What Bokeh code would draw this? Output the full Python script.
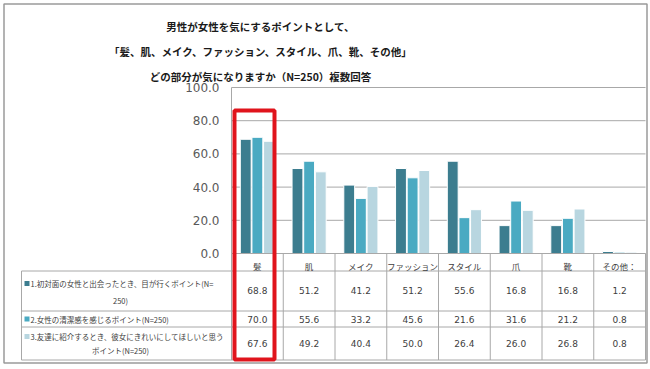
from bokeh.plotting import figure
from bokeh.models import (ColumnDataSource, Range1d, Label, BoxAnnotation, LinearAxis,
                          NumeralTickFormatter, FixedTicker)
from bokeh.core.properties import value
from bokeh.embed import file_html
from bokeh.resources import INLINE

# ---------------- data ----------------
categories = ["髪", "肌", "メイク", "ファッション", "スタイル", "爪", "靴", "その他："]
series1 = [68.8, 51.2, 41.2, 51.2, 55.6, 16.8, 16.8, 1.2]
series2 = [70.0, 55.6, 33.2, 45.6, 21.6, 31.6, 21.2, 0.8]
series3 = [67.6, 49.2, 40.4, 50.0, 26.4, 26.0, 26.8, 0.8]
y_ticks = [0, 20, 40, 60, 80, 100]
title_lines = [
    "男性が女性を気にするポイントとして、",
    "「髪、肌、メイク、ファッション、スタイル、爪、靴、その他」",
    "どの部分が気になりますか（N=250）複数回答",
]
row_label_lines = [
    ["1.初対面の女性と出会ったとき、目が行くポイント(N=", "250)"],
    ["2.女性の清潔感を感じるポイント(N=250)"],
    ["3.友達に紹介するとき、彼女にきれいにしてほしいと思う", "ポイント(N=250)"],
]
highlight = "髪"

# ---------------- styles / layout ----------------
colors = ["#3C7D8F", "#4AAAC2", "#B8D6E0"]
grid_color = "#A8A8A8"
text_color = "#404040"
jp_font = "Noto Sans CJK JP"
num_font = "DejaVu Sans"

W, H = 650, 369
L, R, T, B = 231, 645, 87, 253      # plot area edges (reference pixels)
N = len(categories)


def X(px):   # reference x pixel -> data x
    return (px - L) / (R - L) * N


def Y(py):   # reference y pixel -> data y
    return (B - py) / (B - T) * 100.0


p = figure(width=W, height=H, x_range=Range1d(X(0), X(650)), y_range=Range1d(Y(369), Y(0)),
           output_backend="svg", toolbar_location=None, title=None,
           x_axis_type=None, y_axis_type=None,
           min_border_left=0, min_border_right=0, min_border_top=0, min_border_bottom=0)
p.min_border = 0
p.background_fill_color = "white"
p.border_fill_color = "white"
p.outline_line_color = None
p.xgrid.visible = False
p.ygrid.visible = False

# gridlines over the plot area
p.segment(x0=[0] * len(y_ticks), x1=[N] * len(y_ticks), y0=y_ticks, y1=y_ticks,
          line_color=grid_color, line_width=1)

# bars
idx = list(range(N))
offsets = [-0.225, 0.0, 0.225]
for vals, off, col in zip([series1, series2, series3], offsets, colors):
    src = ColumnDataSource(dict(x=[i + 0.5 + off for i in idx], top=vals))
    p.vbar(x="x", top="top", width=0.21, source=src,
           fill_color=col, line_color="white", line_width=1)

# y axis
yax = LinearAxis(fixed_location=0, bounds=(0, 100), ticker=FixedTicker(ticks=y_ticks),
                 formatter=NumeralTickFormatter(format="0.0"))
yax.major_label_text_font = num_font
yax.major_label_text_font_size = "12px"
yax.major_label_text_color = "#595959"
yax.axis_line_color = grid_color
yax.major_tick_line_color = None
yax.minor_tick_line_color = None
yax.major_tick_in = 0
yax.major_tick_out = 0
yax.major_label_standoff = 12
p.add_layout(yax, "left")

# x axis (category header row of the data table)
centers = [i + 0.5 for i in idx]
xax = LinearAxis(fixed_location=0, bounds=(0, N), ticker=FixedTicker(ticks=centers),
                 major_label_overrides={c: cat for c, cat in zip(centers, categories)})
xax.major_label_text_font = jp_font
xax.major_label_text_font_size = "8.5px"
xax.major_label_text_color = text_color
xax.axis_line_color = grid_color
xax.major_tick_line_color = None
xax.minor_tick_line_color = None
xax.major_tick_in = 0
xax.major_tick_out = 0
xax.major_label_standoff = 6
p.add_layout(xax, "below")

# data table grid
row_edges = [270.5, 310.5, 326.5, 359.5]
p.segment(x0=[X(21)] * len(row_edges), x1=[N] * len(row_edges),
          y0=[Y(r) for r in row_edges], y1=[Y(r) for r in row_edges],
          line_color=grid_color, line_width=1)
p.segment(x0=idx + [N], x1=idx + [N], y0=[0] * (N + 1), y1=[Y(359.5)] * (N + 1),
          line_color=grid_color, line_width=1)
p.segment(x0=[X(21)], x1=[X(21)], y0=[Y(270.5)], y1=[Y(359.5)],
          line_color=grid_color, line_width=1)

# table values
value_y = [290, 318.5, 343]
for vals, vy in zip([series1, series2, series3], value_y):
    s = ColumnDataSource(dict(x=centers, y=[Y(vy)] * N, t=[f"{v:.1f}" for v in vals]))
    p.text(x="x", y="y", text="t", source=s, text_align="center", text_baseline="middle",
           text_font=value(num_font), text_font_size="9px", text_color=text_color)

# row labels with legend keys
label_y = [[283, 300], [318.5], [336, 350]]
for lines, ys, col in zip(row_label_lines, label_y, colors):
    my = ys[0]
    p.add_layout(BoxAnnotation(left=X(24), right=X(29), top=Y(my - 2.5), bottom=Y(my + 2.5),
                               fill_color=col, fill_alpha=1, line_color=None))
    for k, (txt, ly) in enumerate(zip(lines, ys)):
        if k == 0:
            p.add_layout(Label(x=X(30), y=Y(ly), text=txt, text_align="left",
                               text_baseline="middle", text_font=jp_font,
                               text_font_size="7.5px", text_color=text_color))
        else:
            p.add_layout(Label(x=X(120), y=Y(ly), text=txt, text_align="center",
                               text_baseline="middle", text_font=jp_font,
                               text_font_size="7.5px", text_color=text_color))

# title
for txt, ty in zip(title_lines, [26, 51, 76]):
    p.add_layout(Label(x=X(260), y=Y(ty), text=txt, text_align="center",
                       text_baseline="middle", text_font=jp_font, text_font_size="10.5px",
                       text_font_style="bold", text_color="#1A1A1A"))

# highlight box
hi = categories.index(highlight)
p.add_layout(BoxAnnotation(left=hi + X(234), right=hi + X(274), top=Y(110), bottom=Y(359),
                           fill_color=None, line_color="#E0141C", line_alpha=1, line_width=4))

# outer frame
p.add_layout(BoxAnnotation(left=X(3.5), right=X(646.5), top=Y(3.5), bottom=Y(362.5),
                           fill_color=None, line_color="#9A9A9A", line_alpha=1, line_width=1.5))

open("out.html", "w").write(file_html(p, INLINE))
